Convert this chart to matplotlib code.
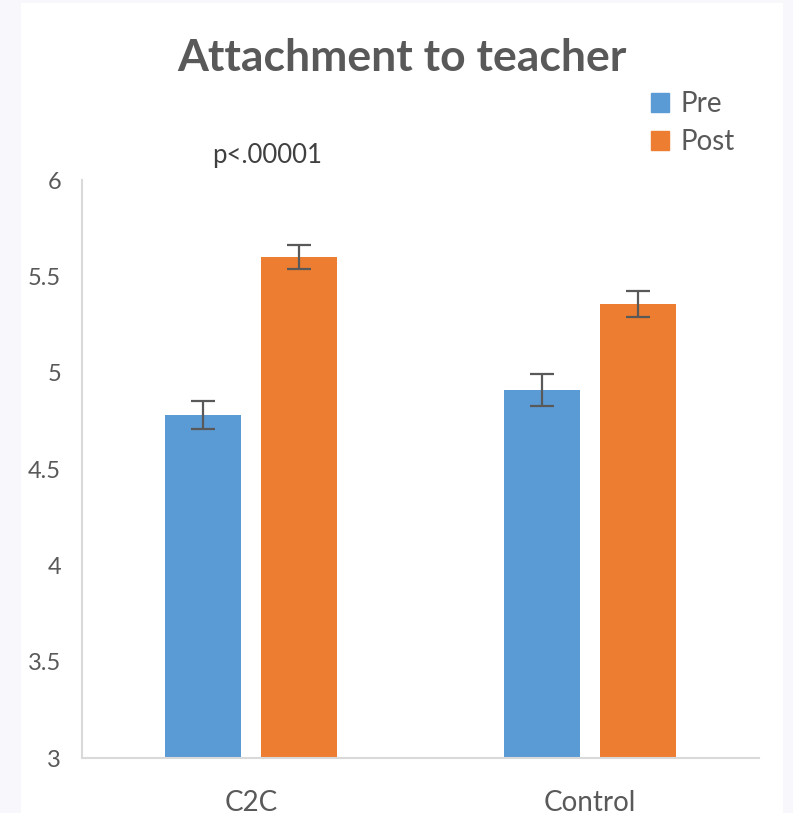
import matplotlib.pyplot as plt
import numpy as np
from matplotlib.patches import Patch, Rectangle

# chart data
groups = ["C2C", "Control"]
series = ["Pre", "Post"]
pre_means = [4.78, 4.91]
post_means = [5.60, 5.357]
pre_err = [0.073, 0.083]
post_err = [0.063, 0.068]
y_ticks = [3, 3.5, 4, 4.5, 5, 5.5, 6]
y_tick_labels = ["3", "3.5", "4", "4.5", "5", "5.5", "6"]

blue = "#5B9BD5"
orange = "#ED7D31"
grey = "#595959"

plt.rcParams["font.family"] = ["Lato", "DejaVu Sans"]

fig = plt.figure(figsize=(7.93, 8.13), dpi=100, facecolor="#F7F7FC")
# white chart card on lavender slide background
fig.patches.append(Rectangle((21 / 793, 0), 762 / 793, 810 / 813, transform=fig.transFigure,
                             facecolor="white", edgecolor="none", zorder=-5))

ax = fig.add_axes([82 / 793, 1 - 758 / 813, 677 / 793, 578 / 813])
ax.set_facecolor("none")

x = np.arange(len(groups))
width = 0.225
offset = 0.142
err_style = dict(ecolor=grey, elinewidth=1.6, capsize=8.5, capthick=1.6)
ax.bar(x - offset, pre_means, width, color=blue, label=series[0], yerr=pre_err, error_kw=err_style)
ax.bar(x + offset, post_means, width, color=orange, label=series[1], yerr=post_err, error_kw=err_style)

ax.set_xlim(-0.5, 1.5)
ax.set_ylim(3, 6)
ax.set_yticks(y_ticks)
ax.set_yticklabels(y_tick_labels)
ax.set_xticks(x)
ax.set_xticklabels(groups)
ax.tick_params(axis="y", length=0, pad=15, labelsize=17, labelcolor=grey)
ax.tick_params(axis="x", length=0, pad=23, labelsize=20, labelcolor=grey)
for side in ["top", "right"]:
    ax.spines[side].set_visible(False)
for side in ["left", "bottom"]:
    ax.spines[side].set_color("#D9D9D9")
    ax.spines[side].set_linewidth(1.5)

# title and annotation
fig.text(402 / 793, 1 - 58 / 813, "Attachment to teacher", ha="center", va="center",
         fontsize=32, fontweight="bold", color=grey)
fig.text(267 / 793, 1 - 155 / 813, "p<.00001", ha="center", va="center", fontsize=18.5, color="#404040")

handles = [Patch(color=blue), Patch(color=orange)]
fig.legend(handles, series, loc="upper left", bbox_to_anchor=(651 / 793, 1 - 91 / 813),
           frameon=False, fontsize=20, labelcolor=grey, handlelength=0.65, handleheight=0.65,
           handletextpad=0.42, labelspacing=0.45, borderaxespad=0, borderpad=0)

fig.savefig("out.png", dpi=100, facecolor=fig.get_facecolor())
